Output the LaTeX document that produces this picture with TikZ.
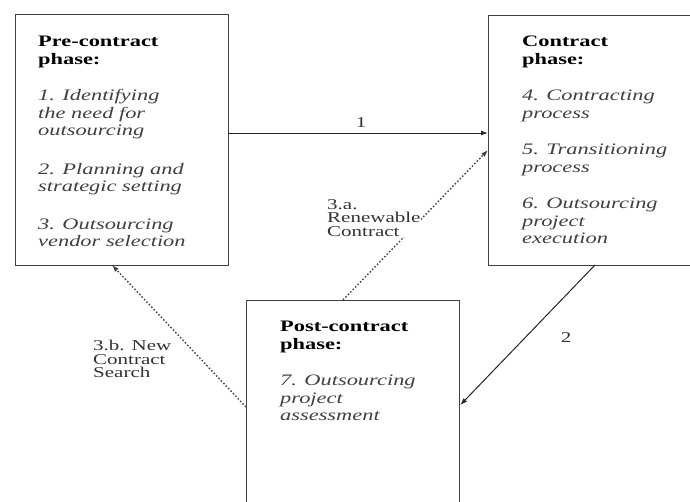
\documentclass[tikz,border=0pt]{standalone}
\usepackage{fontspec}
\setmainfont{Liberation Serif}
\newfontfamily\wideserif[FakeStretch=1.4]{Liberation Serif}
\usetikzlibrary{arrows.meta}
\tikzset{
  phasebox/.style={draw=black!75, line width=1.3pt, fill=white, rectangle, inner sep=0pt},
  phasetext/.style={anchor=north west, align=left, inner sep=0pt, font=\wideserif\fontsize{16}{17.5}\selectfont},
  flowlbl/.style={align=left, inner sep=0pt, text=black!80, font=\wideserif\fontsize{15}{13.5}\selectfont},
  solidarrow/.style={draw=black!85, line width=1pt, -{Latex[length=7pt,width=5pt]}},
  dotarrow/.style={draw=black!75, line width=1.4pt, dash pattern=on 1.5pt off 2pt, -{Latex[length=7pt,width=5pt]}}
}
\begin{document}
\begin{tikzpicture}[x=1pt,y=-1pt]
\useasboundingbox (0,0) rectangle (690,501);
\fill[white] (0,0) rectangle (690,501);
% boxes
\node[phasebox, minimum width=213pt, minimum height=251pt, anchor=north west] (pre) at (15,14) {};
\node[phasebox, minimum width=225pt, minimum height=250pt, anchor=north west] (con) at (488,15) {};
\node[phasebox, minimum width=213pt, minimum height=225pt, anchor=north west] (post) at (246,300) {};
% texts
\node[phasetext] (pretxt) at (38,36) {\textbf{Pre-contract}\\\textbf{phase:}\\[19pt]
  {\itshape\color{black!75}1. Identifying}\\{\itshape\color{black!75}the need for}\\{\itshape\color{black!75}outsourcing}\\[21pt]
  {\itshape\color{black!75}2. Planning and}\\{\itshape\color{black!75}strategic setting}\\[20pt]
  {\itshape\color{black!75}3. Outsourcing}\\{\itshape\color{black!75}vendor selection}};
\node[phasetext] (contxt) at (522,36) {\textbf{Contract}\\\textbf{phase:}\\[19pt]
  {\itshape\color{black!75}4. Contracting}\\{\itshape\color{black!75}process}\\[19pt]
  {\itshape\color{black!75}5. Transitioning}\\{\itshape\color{black!75}process}\\[19pt]
  {\itshape\color{black!75}6. Outsourcing}\\{\itshape\color{black!75}project}\\{\itshape\color{black!75}execution}};
\node[phasetext] (posttxt) at (280,321) {\textbf{Post-contract}\\\textbf{phase:}\\[19pt]
  {\itshape\color{black!75}7. Outsourcing}\\{\itshape\color{black!75}project}\\{\itshape\color{black!75}assessment}};
% connectors
\coordinate (p1) at (pre.east |- 0,133);
\coordinate (c1) at (con.west |- 0,133);
\draw[solidarrow] (p1) -- (c1);
\node[flowlbl] (l1) at (361,123) {1};
\coordinate (pa) at (343,300);
\coordinate (ca) at (con.west |- 0,150);
\draw[dotarrow] (pa) -- (ca);
\node[flowlbl, anchor=north west, fill=white, inner sep=1pt] (la) at (326,198) {3.a.\\Renewable\\Contract};
\coordinate (cb) at (595,265);
\coordinate (pb) at (post.east |- 0,405);
\draw[solidarrow] (cb) -- (pb);
\node[flowlbl] (l2) at (566,338) {2};
\coordinate (pc) at (post.west |- 0,407);
\coordinate (prc) at (112,265);
\draw[dotarrow] (pc) -- (prc);
\node[flowlbl, anchor=north west] (lb) at (93,340) {3.b. New\\Contract\\Search};
\end{tikzpicture}
\end{document}
